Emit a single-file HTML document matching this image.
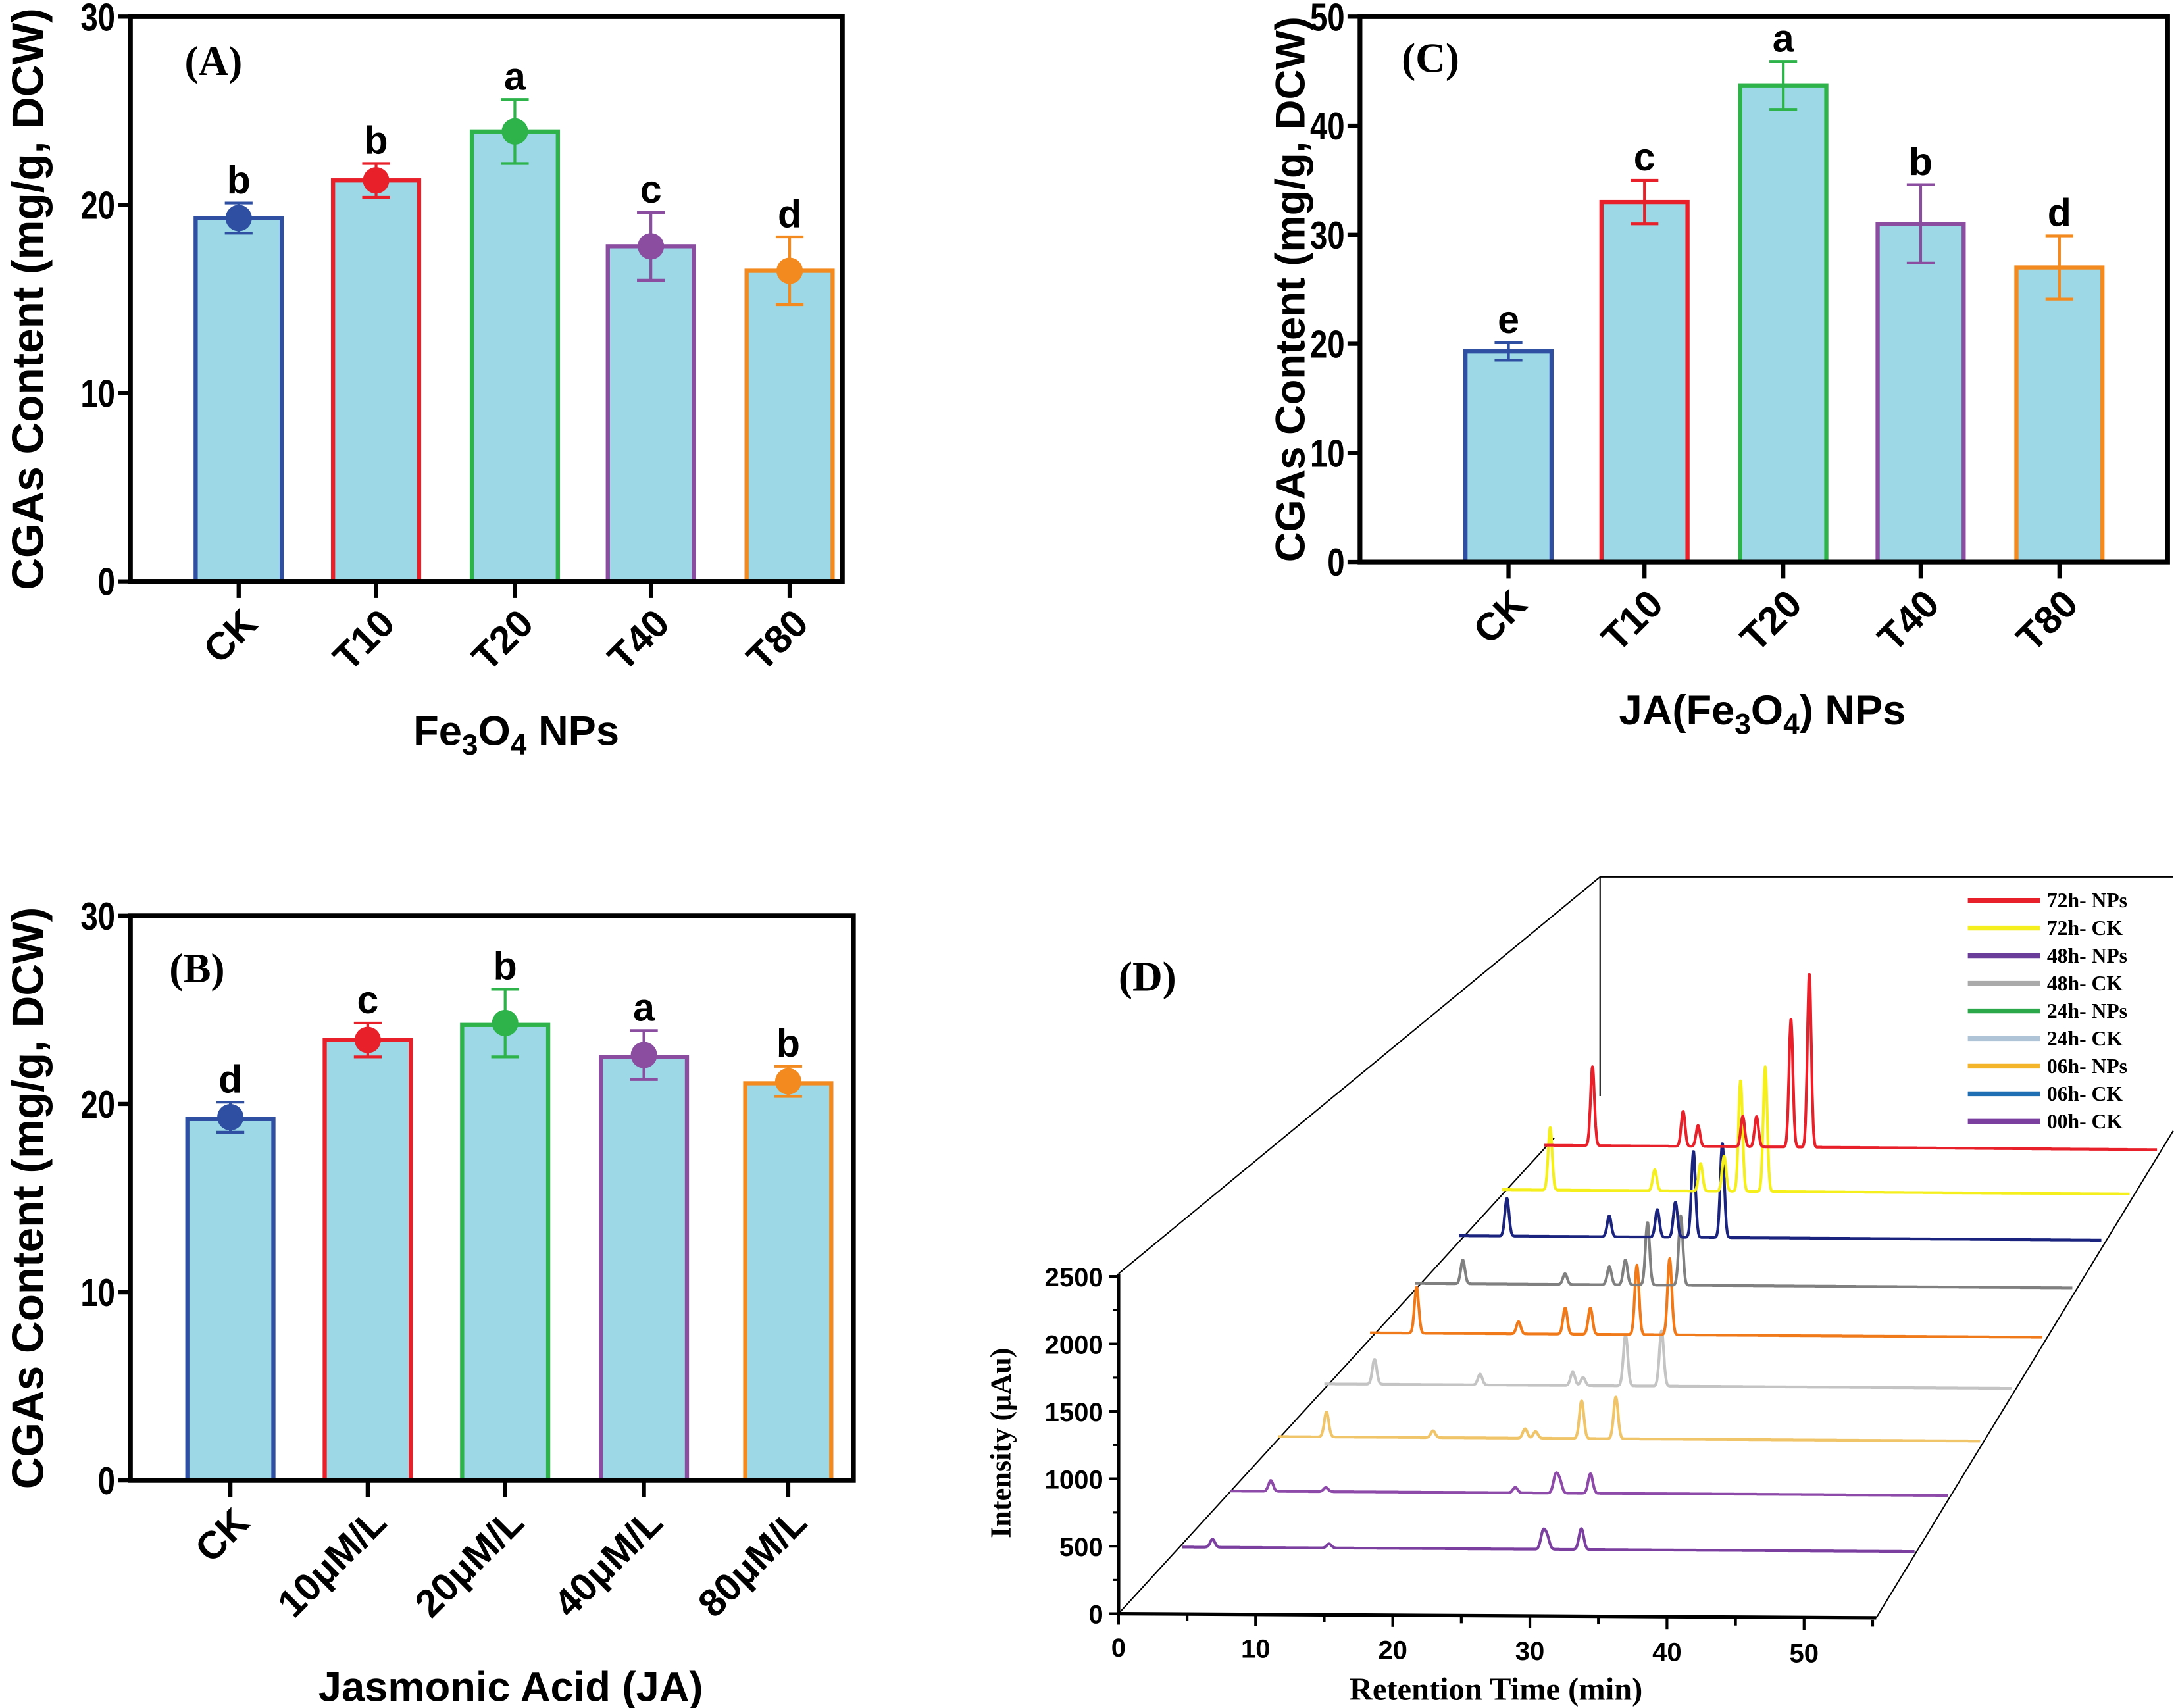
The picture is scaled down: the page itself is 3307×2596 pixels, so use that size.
<!DOCTYPE html>
<html><head><meta charset="utf-8"><style>
html,body{margin:0;padding:0;background:#fff;}
svg{display:block;}
.b{font-family:"Liberation Sans",Arial,sans-serif;font-weight:bold;}
.t{font-family:"Liberation Serif","Times New Roman",serif;font-weight:bold;}
</style></head><body>
<svg id="fig" xmlns="http://www.w3.org/2000/svg" width="3307" height="2596" viewBox="0 0 1568 1231" preserveAspectRatio="none">
<rect width="1568" height="1231" fill="#fff"/>
<g id="gA"></g>
<g id="gB"></g>
<g id="gC"></g>
<g id="gD"></g>
</svg>
<script>
// ---- Panel A data ----
const catsA = ["CK","T10","T20","T40","T80"];
const valsA = [19.3,21.3,23.9,17.8,16.5];
const errA = [0.8,0.9,1.7,1.8,1.8];
const lettersA = ["b","b","a","c","d"];
// ---- Panel B data ----
const catsB = ["CK","10μM/L","20μM/L","40μM/L","80μM/L"];
const valsB = [19.2,23.4,24.2,22.5,21.1];
const dotsB = [19.3,23.4,24.3,22.6,21.2];
const errB = [0.8,0.9,1.8,1.3,0.8];
const lettersB = ["d","c","b","a","b"];
// ---- Panel C data ----
const catsC = ["CK","T10","T20","T40","T80"];
const valsC = [19.3,33.0,43.7,31.0,27.0];
const errC = [0.8,2.0,2.2,3.6,2.9];
const lettersC = ["e","c","a","b","d"];
const ticksA = [0,10,20,30];
const ticksC = [0,10,20,30,40,50];
// ---- Panel D data (retention time min, intensity µAU) ----
const seriesNames = ["00h- CK","00h- CK b","06h- NPs","24h- CK","06h- CK o","48h- CK","48h- NPs","72h- CK","72h- NPs"];
const peakTimes = [
 [2.2,10.7,26.3,26.6,29.1],
 [3.0,7.1,21.2,24.2,24.5,26.8],
 [3.7,11.8,18.8,19.6,23.1,25.7],
 [3.9,12.1,19.3,20.1,23.4,26.2],
 [3.7,11.8,15.5,17.5,21.2,23.8],
 [3.9,12.2,15.8,17.1,18.9,21.6],
 [4.0,12.5,16.5,18.0,19.5,21.9],
 [4.1,13.0,16.9,18.9,20.3,22.4],
 [4.2,12.1,13.4,17.3,18.5,21.5,23.1]
];
const peakHeights = [
 [60,30,125,90,155],
 [80,30,40,125,90,145],
 [185,50,70,50,280,310],
 [185,80,100,60,380,410],
 [340,90,195,195,515,565],
 [175,80,135,185,465,515],
 [280,155,205,260,640,700],
 [465,155,205,260,825,925],
 [585,260,155,225,225,950,1290]
];
const legendLabels = ["72h- NPs","72h- CK","48h- NPs","48h- CK","24h- NPs","24h- CK","06h- NPs","06h- CK","00h- CK"];
const dTicksY = [0,500,1000,1500,2000,2500];
const dTicksX = [0,10,20,30,40,50];

const NS="http://www.w3.org/2000/svg";
function mk(parent,tag,attrs,text){const e=document.createElementNS(NS,tag);for(const k in attrs)e.setAttribute(k,attrs[k]);if(text!==undefined)e.textContent=text;parent.appendChild(e);return e;}
const edge=["#2f4fa2","#e8202a","#2db34a","#8a4da0","#f28a20"];
const fillBar="#9cd8e6";

function barPanel(g,o){
  const y=v=>o.y0-(v/o.ymax)*(o.y0-o.y1);
  o.vals.forEach((v,i)=>{
    const cx=o.cx[i];
    const r=mk(g,"rect",{x:cx-31,y:y(v),width:62,height:o.y0-y(v),fill:fillBar,stroke:edge[i],"stroke-width":3});
    
    
    const top=(o.dots?o.dots[i]:v);
    const e=o.err[i];
    const eb=mk(g,"path",{d:`M${cx},${y(top-e)}V${y(top+e)}M${cx-10},${y(top+e)}H${cx+10}M${cx-10},${y(top-e)}H${cx+10}`,stroke:edge[i],"stroke-width":2,fill:"none"});
    
    
    if(o.dots){
      const c=mk(g,"circle",{cx:cx,cy:y(o.dots[i]),r:9.5,fill:edge[i]});
      
      
    }
    const l=mk(g,"text",{x:cx,y:y(top+e)-7,"text-anchor":"middle","font-size":28,class:"b"},o.letters[i]);
    
    
    const tk=mk(g,"line",{x1:cx,x2:cx,y1:o.y0,y2:o.y0+12,stroke:"#000","stroke-width":3});
    
    
    const tl=mk(g,"text",{x:cx+15,y:o.y0+32,"text-anchor":"end","font-size":28,class:"b",transform:`rotate(-45 ${cx+15} ${o.y0+32})`},o.cats[i]);
    
    
  });
  const f=mk(g,"rect",{x:o.x0,y:o.y1,width:o.x1-o.x0,height:o.y0-o.y1,fill:"none",stroke:"#000","stroke-width":3.4});
  
  
  o.ticks.forEach(t=>{
    const tk=mk(g,"line",{x1:o.x0-9,x2:o.x0,y1:y(t),y2:y(t),stroke:"#000","stroke-width":3});
    
    
    const s=String(t);
    const tl=mk(g,"text",{x:o.x0-11,y:y(t)+10,"text-anchor":"end","font-size":28,class:"b",textLength:12.5*s.length,lengthAdjust:"spacingAndGlyphs"},s);
    
    
  });
  const yt=mk(g,"text",{x:0,y:0,"text-anchor":"middle","font-size":o.ytfs,class:"b",transform:`translate(${o.ytx},${(o.y0+o.y1)/2}) rotate(-90)`},"CGAs Content (mg/g, DCW)");
  
  
  const xt=mk(g,"text",{x:o.xtx,y:o.xty,"text-anchor":"middle","font-size":30,class:"b"});
  xt.innerHTML=o.xtitle;
  
  
  const pl=mk(g,"text",{x:o.plx,y:o.ply,"font-size":30,class:"t"},o.plabel);
  
  
}
barPanel(document.getElementById("gA"),{x0:94,x1:607,y0:419,y1:12,ymax:30,cx:[172,271,371,469,569],vals:valsA,dots:valsA,err:errA,letters:lettersA,cats:catsA,ticks:ticksA,ytx:31,ytfs:32,xtx:372,xty:537,xtitle:'Fe<tspan font-size="21" dy="7">3</tspan><tspan dy="-7">O</tspan><tspan font-size="21" dy="7">4</tspan><tspan dy="-7"> NPs</tspan>',plabel:"(A)",plx:133,ply:54});
barPanel(document.getElementById("gB"),{x0:94,x1:615,y0:1067,y1:660,ymax:30,cx:[166,265,364,464,568],vals:valsB,dots:dotsB,err:errB,letters:lettersB,cats:catsB,ticks:ticksA,ytx:31,ytfs:32,xtx:368,xty:1226,xtitle:"Jasmonic Acid (JA)",plabel:"(B)",plx:122,ply:708});
barPanel(document.getElementById("gC"),{x0:980,x1:1562,y0:405,y1:12,ymax:50,cx:[1087,1185,1285,1384,1484],vals:valsC,dots:null,err:errC,letters:lettersC,cats:catsC,ticks:ticksC,ytx:940,ytfs:30,xtx:1270,xty:522,xtitle:'JA(Fe<tspan font-size="21" dy="7">3</tspan><tspan dy="-7">O</tspan><tspan font-size="21" dy="7">4</tspan><tspan dy="-7">) NPs</tspan>',plabel:"(C)",plx:1010,ply:52});

// ---- Panel D ----
(function(){
  const g=document.getElementById("gD");
  const ox=806, oy=1163, pxPerMin=9.88, pxPerU=243/2500;
  const colors=["#7b3fa0","#8e4aa8","#f0c468","#c4c4c4","#f07a1a","#808080","#1a237e","#f5ef1e","#e8202a"];
  const legColors=["#e8202a","#f5ef1e","#6a3d9a","#aaaaaa","#2aa84a","#b0c4d8","#f5b52a","#1f6fb5","#7b3fa0"];
  const L=(a,s,w,n)=>{const e=mk(g,"path",{d:a,stroke:s,"stroke-width":w,fill:"none"});return e;};
  L(`M${ox},${oy}L1352,1166`,"#000",2.5,"x-axis");
  L(`M${ox},${oy}V918`,"#000",2.5,"y-axis");
  L(`M${ox},918L1153,632H1566`,"#000",1,"box-edge");
  L(`M1153,632V790`,"#000",1,"box-edge");
  L(`M${ox},${oy}L1120,820`,"#000",1,"floor-edge");
  L(`M1352,1166L1566,815`,"#000",1,"floor-edge");
  dTicksY.forEach(v=>{
    const yy=oy-v*pxPerU;
    L(`M${ox},${yy}H${ox-7}`,"#000",2,"y-tick");
    const t=mk(g,"text",{x:ox-11,y:yy+7,"text-anchor":"end","font-size":19,class:"b"},v);
    
  });
  for(let v=250;v<2500;v+=500){const yy=oy-v*pxPerU;L(`M${ox},${yy}H${ox-4}`,"#000",1.5,"y-minor-tick");}
  for(let m=0;m<=55;m+=5){const xx=ox+m*pxPerMin, yy=oy+m*0.08;L(`M${xx},${yy}V${yy+(m%10?5:8)}`,"#000",2,"x-tick");}
  dTicksX.forEach(m=>{
    const xx=ox+m*pxPerMin, yy=oy+m*0.08;
    const t=mk(g,"text",{x:xx,y:yy+31,"text-anchor":"middle","font-size":19,class:"b"},m);
    
  });
  const yt=mk(g,"text",{x:0,y:0,"text-anchor":"middle","font-size":21,class:"t",transform:`translate(728,1040) rotate(-90)`},"Intensity (μAu)");
  
  const xt=mk(g,"text",{x:1078,y:1225,"text-anchor":"middle","font-size":23,class:"t"},"Retention Time (min)");
  
  const pl=mk(g,"text",{x:806,y:714,"font-size":30,class:"t"},"(D)");
  
  for(let k=0;k<peakTimes.length;k++){
    const sx=ox+46+35*k-0.3*k*k, sy=oy-(48+41*k-0.6*k*k);
    const s=1-0.0204*k, tx=pxPerMin*s;
    let d="";
    for(let t=0;t<=53.4;t+=0.04){
      let v=0;
      peakTimes[k].forEach((pt,j)=>{const z=(t-pt)/0.17;v+=peakHeights[k][j]*Math.exp(-z*z/2);});
      const x=sx+t*tx, y=sy+t*0.06-v*pxPerU;
      d+=(d?"L":"M")+x.toFixed(1)+","+y.toFixed(1);
    }
    const p=mk(g,"path",{d:d,stroke:colors[k],"stroke-width":2,fill:"none","stroke-linejoin":"round"});
    
    
  }
  legendLabels.forEach((lab,i)=>{
    const yy=649+i*19.9;
    const l=mk(g,"line",{x1:1418,x2:1470,y1:yy,y2:yy,stroke:legColors[i],"stroke-width":3.5});
    
    const t=mk(g,"text",{x:1475,y:yy+5,"font-size":15,class:"t"},lab);
    
  });
})();
</script>
</body></html>
